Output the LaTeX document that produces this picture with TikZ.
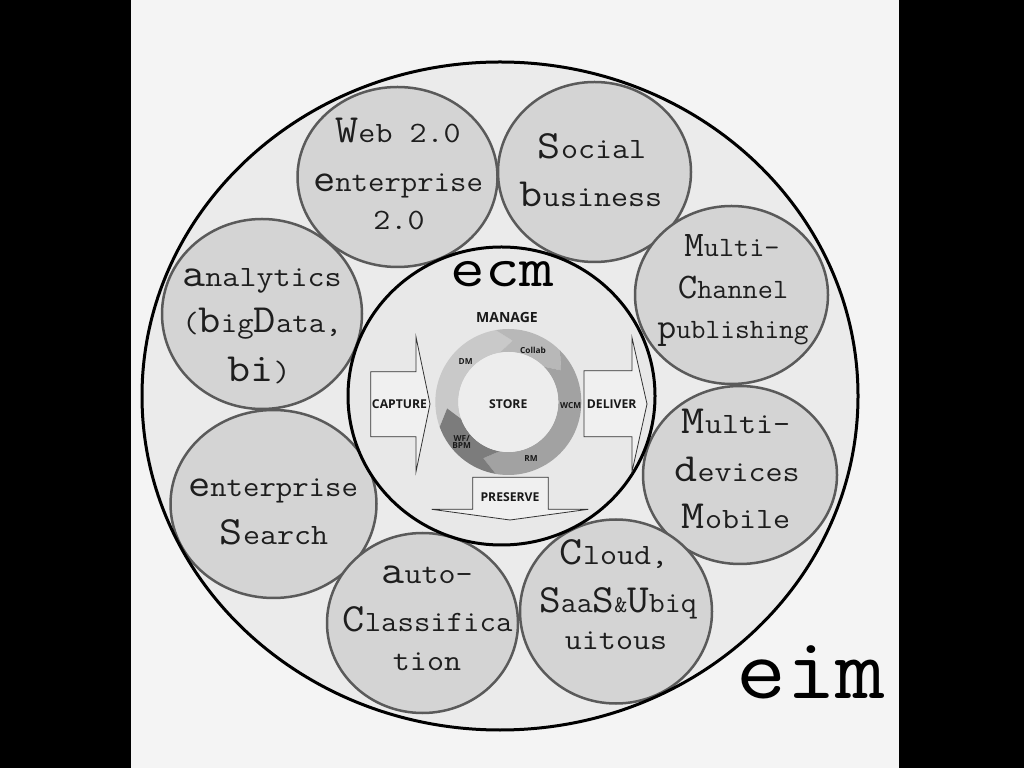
\documentclass[tikz,border=0pt]{standalone}
\usepackage{fontspec}
\usepackage{graphicx}
\newfontfamily\osans{Open Sans}
\usetikzlibrary{shapes.geometric}
\definecolor{bgc}{HTML}{F4F4F4}
\definecolor{eimfill}{HTML}{EBEBEB}
\definecolor{ecmfill}{HTML}{E8E8E8}
\definecolor{bubfill}{HTML}{D4D4D4}
\definecolor{bubline}{HTML}{5A5A5A}
\definecolor{txt}{HTML}{1E1E1E}
\definecolor{segA}{HTML}{C9C9C9}
\definecolor{segB}{HTML}{B8B8B8}
\definecolor{segC}{HTML}{A2A2A2}
\definecolor{segD}{HTML}{7C7C7C}
\definecolor{storefill}{HTML}{EDEDED}
\definecolor{arrfill}{HTML}{F0F0F0}
\newcommand\sx[2][1.12]{\scalebox{#1}[1]{#2}}
\newcommand\dl[1]{{\fontsize{40}{40}\selectfont #1}}
\newcommand\dls[1]{{\fontsize{36}{36}\selectfont #1}}
\newcommand\amp{{\fontsize{24}{24}\selectfont\&}}
\tikzset{
  bub/.style={ellipse, draw=bubline, fill=bubfill, line width=2.5, inner sep=0},
  ln/.style={anchor=base, inner sep=0, text=txt, font=\ttfamily\fontsize{29.5}{30}\selectfont},
  lns/.style={anchor=base, inner sep=0, text=txt, font=\ttfamily\fontsize{28}{29}\selectfont},
  flow/.style={draw=black!80, fill=arrfill, line width=0.8},
  lbl/.style={inner sep=0, text=black!90, font=\osans\bfseries\fontsize{12.2}{13}\selectfont},
  slbl/.style={inner sep=0, text=black!90, font=\osans\bfseries\fontsize{8.3}{9}\selectfont, align=center},
  big/.style={anchor=base, inner sep=0, text=black},
}
\begin{document}
\begin{tikzpicture}[x=1pt,y=1pt]
\useasboundingbox (0,0) rectangle (1024,768);
\fill[black] (0,0) rectangle (1024,768);
\fill[bgc] (131,0) rectangle (899,768);
% outer eim ellipse (fill)
\node[ellipse, fill=eimfill, minimum width=716, minimum height=668, inner sep=0] (eim) at (500,372) {};
% bubbles
\node[bub, minimum width=200, minimum height=180] (web) at (397.5,591) {};
\node[bub, minimum width=193, minimum height=180] (soc) at (594.5,596) {};
\node[bub, minimum width=200, minimum height=190] (ana) at (262,454) {};
\node[bub, minimum width=193, minimum height=178] (mch) at (731.5,473) {};
\node[bub, minimum width=194, minimum height=178] (mdv) at (740,293) {};
\node[bub, minimum width=206, minimum height=188] (esr) at (273.5,264) {};
\node[bub, minimum width=191, minimum height=180] (aut) at (422.5,145) {};
\node[bub, minimum width=192, minimum height=184] (cld) at (616,156.5) {};
% outer border on top
\draw[line width=3] (eim.center) ellipse [x radius=358, y radius=334];
% ecm ellipse
\node[ellipse, draw=black, line width=3, fill=ecmfill, minimum width=307, minimum height=298, inner sep=0] (ecm) at (501.5,372) {};
% flow arrows
\draw[flow] (370.7,396.3) -- (416,396.3) -- (416,431) -- (430,364) -- (416,296.3) -- (416,331.3) -- (370.7,331.3) -- cycle;
\draw[flow] (584,397.3) -- (632,397.3) -- (632,430.3) -- (647,364) -- (632,296.3) -- (632,331.3) -- (584,331.3) -- cycle;
\draw[flow] (472.7,290.7) -- (548.3,290.7) -- (548.3,258.7) -- (588.3,258.7) -- (510,248) -- (431.7,258.7) -- (472.7,258.7) -- cycle;
% cycle ring
\begin{scope}[shift={(508.3,366)}]
\foreach \s/\e/\c in {200/100/segA, 100/45/segB, 45/-100/segC, -100/-160/segD}{
  \fill[\c] (\s:73) arc[start angle=\s, end angle=\e, radius=73] -- ({\e-14}:61.5) -- (\e:50)
    arc[start angle=\e, end angle=\s, radius=50] -- ({\s-14}:61.5) -- cycle;
}
\fill[storefill] (0,0) circle[radius=50];
\end{scope}
% ecm labels
\node[lbl] (cap) at (399.5,364) {CAPTURE};
\node[lbl] (del) at (611.7,364) {DELIVER};
\node[lbl] (pre) at (510,271.3) {PRESERVE};
\node[lbl, font=\osans\bfseries\fontsize{14}{15}\selectfont] (man) at (507,450) {MANAGE};
\node[lbl] (sto) at (508.3,364.3) {STORE};
\node[slbl] (dm) at (465.7,406.7) {DM};
\node[slbl] (col) at (533,418) {Collab};
\node[slbl] (wcm) at (570.7,362.7) {WCM};
\node[slbl] (rm) at (531,309) {RM};
\node[slbl] (wf) at (461.7,326) {WF/\\[-2pt]BPM};
\node[big, font=\ttfamily\fontsize{57}{57}\selectfont] (ecmt) at (502.5,481.5) {\sx[1.18]{ecm}};
\node[big, font=\ttfamily\fontsize{88}{88}\selectfont] (eimt) at (811,70) {\sx[1.1]{eim}};
% bubble texts
\node[ln] (w1) at (398,625) {\sx{\dl{W}eb 2.0}};
\node[ln] (w2) at (398,576) {\sx[1.08]{\dl{e}nterprise}};
\node[ln] (w3) at (399,538) {\sx{2.0}};
\node[ln] (a1) at (262,481) {\sx{\dl{a}nalytics}};
\node[ln] (a2) at (262,435) {\sx[1.08]{(\dl{b}ig\dl{D}ata,}};
\node[ln] (a3) at (259,386) {\sx{\dl{b}\dl{i})}};
\node[ln] (s1) at (592,609) {\sx{\dl{S}ocial}};
\node[ln] (s2) at (591,561) {\sx{\dl{b}usiness}};
\node[lns] (m1) at (732,511) {\sx[1.05]{\dls{M}ulti-}};
\node[lns] (m2) at (733,469) {\sx[1.05]{\dls{C}hannel}};
\node[lns] (m3) at (733,429) {\sx[1.02]{\dls{p}ublishing}};
\node[ln] (d1) at (736,334) {\sx{\dl{M}ulti-}};
\node[ln] (d2) at (737,286) {\sx{\dl{d}evices}};
\node[ln] (d3) at (736,239) {\sx{\dl{M}obile}};
\node[ln] (c1) at (614,203) {\sx{\dl{C}loud,}};
\node[ln] (c2) at (618,156) {\sx[1.05]{\dl{S}aa\dl{S}\amp\dl{U}biq}};
\node[ln] (c3) at (616,119) {\sx{uitous}};
\node[ln] (u1) at (427,184) {\sx{\dl{a}uto-}};
\node[ln] (u2) at (427.5,136) {\sx[1.08]{\dl{C}lassifica}};
\node[ln] (u3) at (427,98) {\sx{tion}};
\node[ln] (e1) at (273,271) {\sx[1.08]{\dl{e}nterprise}};
\node[ln] (e2) at (274,223) {\sx{\dl{S}earch}};
\end{tikzpicture}
\end{document}
